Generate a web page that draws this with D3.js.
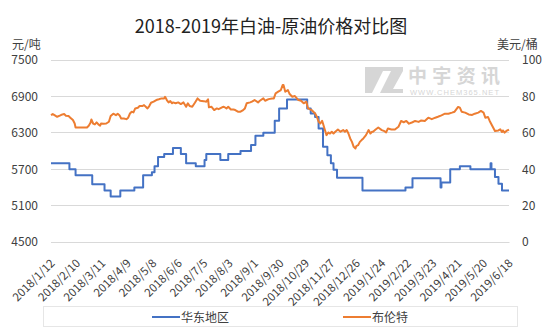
<!DOCTYPE html>
<html><head><meta charset="utf-8">
<script src="https://cdn.jsdelivr.net/npm/d3@7"></script>
<style>
html,body{margin:0;padding:0;background:#fff;}
svg{display:block;font-family:"Noto Sans CJK SC","Noto Sans",sans-serif;}
</style></head>
<body><svg id="c" width="554" height="332"></svg>
<script>
const title = "2018-2019年白油-原油价格对比图";
const leftUnit = "元/吨", rightUnit = "美元/桶";
const leftTicks = [4500, 5100, 5700, 6300, 6900, 7500];
const rightTicks = [0, 20, 40, 60, 80, 100];
const xLabels = ["2018/1/12","2018/2/10","2018/3/11","2018/4/9","2018/5/8","2018/6/6","2018/7/5","2018/8/3","2018/9/1","2018/9/30","2018/10/29","2018/11/27","2018/12/26","2019/1/24","2019/2/22","2019/3/23","2019/4/21","2019/5/20","2019/6/18"];
const seriesNames = ["华东地区", "布伦特"];

// 华东地区 (元/吨) — price change dates and levels
const eastDates = ["2018/1/12","2018/2/2","2018/2/9","2018/2/28","2018/3/14","2018/3/21","2018/4/1","2018/4/17","2018/4/27","2018/5/7","2018/5/10","2018/5/14","2018/5/21","2018/5/31","2018/6/9","2018/6/15","2018/6/26","2018/7/6","2018/7/8","2018/7/24","2018/8/2","2018/8/16","2018/8/28","2018/9/2","2018/9/11","2018/9/24","2018/9/29","2018/10/8","2018/10/31","2018/11/4","2018/11/9","2018/11/13","2018/11/18","2018/11/23","2018/11/27","2018/11/30","2018/12/4","2019/1/2","2019/2/20","2019/2/28","2019/4/1","2019/4/2","2019/4/12","2019/4/23","2019/5/5","2019/5/28","2019/5/29","2019/6/2","2019/6/6","2019/6/10","2019/6/18"];
const eastValues = [5800,5700,5600,5450,5350,5250,5350,5400,5600,5650,5750,5900,5950,6050,5950,5800,5750,5850,5950,5850,5950,6000,6100,6250,6300,6500,6700,6850,6700,6620,6560,6370,6070,5930,5800,5690,5560,5350,5400,5550,5400,5480,5700,5750,5700,5800,5700,5570,5460,5350,5350];

// 布伦特 (美元/桶)
const brentDates = ["2018/1/12","2018/1/14","2018/1/16","2018/1/19","2018/1/22","2018/1/25","2018/1/27","2018/1/29","2018/2/1","2018/2/3","2018/2/6","2018/2/8","2018/2/9","2018/2/16","2018/2/22","2018/2/24","2018/2/26","2018/2/27","2018/3/1","2018/3/3","2018/3/5","2018/3/7","2018/3/9","2018/3/10","2018/3/13","2018/3/16","2018/3/19","2018/3/21","2018/3/24","2018/3/27","2018/3/29","2018/3/31","2018/4/2","2018/4/5","2018/4/8","2018/4/10","2018/4/12","2018/4/14","2018/4/16","2018/4/18","2018/4/21","2018/4/23","2018/4/26","2018/4/28","2018/4/30","2018/5/2","2018/5/4","2018/5/6","2018/5/9","2018/5/12","2018/5/15","2018/5/18","2018/5/21","2018/5/22","2018/5/24","2018/5/26","2018/5/28","2018/5/30","2018/5/31","2018/6/3","2018/6/6","2018/6/9","2018/6/12","2018/6/15","2018/6/17","2018/6/19","2018/6/22","2018/6/25","2018/6/28","2018/7/1","2018/7/5","2018/7/8","2018/7/10","2018/7/11","2018/7/14","2018/7/17","2018/7/20","2018/7/22","2018/7/26","2018/7/28","2018/7/31","2018/8/2","2018/8/5","2018/8/8","2018/8/10","2018/8/13","2018/8/16","2018/8/19","2018/8/21","2018/8/23","2018/8/27","2018/8/29","2018/9/1","2018/9/5","2018/9/7","2018/9/11","2018/9/13","2018/9/17","2018/9/21","2018/9/23","2018/9/25","2018/9/28","2018/10/1","2018/10/3","2018/10/4","2018/10/6","2018/10/9","2018/10/11","2018/10/14","2018/10/17","2018/10/21","2018/10/24","2018/10/27","2018/10/30","2018/11/1","2018/11/5","2018/11/9","2018/11/11","2018/11/13","2018/11/15","2018/11/17","2018/11/18","2018/11/20","2018/11/22","2018/11/24","2018/11/26","2018/11/28","2018/11/30","2018/12/2","2018/12/5","2018/12/8","2018/12/11","2018/12/13","2018/12/15","2018/12/17","2018/12/19","2018/12/21","2018/12/23","2018/12/25","2018/12/26","2018/12/28","2018/12/30","2019/1/1","2019/1/3","2019/1/6","2019/1/9","2019/1/11","2019/1/13","2019/1/14","2019/1/17","2019/1/20","2019/1/24","2019/1/27","2019/1/29","2019/1/31","2019/2/4","2019/2/8","2019/2/12","2019/2/15","2019/2/18","2019/2/21","2019/2/24","2019/2/28","2019/3/3","2019/3/7","2019/3/10","2019/3/14","2019/3/18","2019/3/22","2019/3/26","2019/3/29","2019/4/2","2019/4/6","2019/4/10","2019/4/14","2019/4/17","2019/4/21","2019/4/23","2019/4/25","2019/4/29","2019/5/3","2019/5/7","2019/5/10","2019/5/14","2019/5/17","2019/5/20","2019/5/22","2019/5/25","2019/5/27","2019/5/30","2019/6/2","2019/6/6","2019/6/8","2019/6/10","2019/6/11","2019/6/13","2019/6/15","2019/6/18"];
const brentValues = [69.7,70.3,69.7,68.8,69.4,70.1,70.3,69.4,69.2,68.3,67.0,65.1,62.9,62.9,62.9,63.9,65.5,67.3,65.1,64.6,65.7,64.6,63.9,65.1,65.0,65.1,66.1,69.2,70.5,69.7,70.5,69.7,67.9,67.9,67.5,68.3,70.6,71.6,71.2,73.4,73.8,74.7,74.7,75.2,74.3,73.4,74.7,76.5,77.1,78.0,78.4,78.9,78.9,79.8,78.0,76.7,77.4,76.2,76.7,76.2,76.7,75.8,76.7,74.3,76.2,74.7,74.3,76.5,78.9,77.6,77.4,77.1,78.4,74.0,74.3,72.5,73.4,73.0,74.0,74.3,73.4,74.3,72.8,72.8,72.5,71.6,71.6,72.5,73.4,76.2,76.7,77.1,78.0,76.7,77.6,78.9,77.6,78.5,78.9,78.9,81.7,82.6,83.5,86.2,86.2,82.6,83.5,81.3,79.8,80.2,78.0,77.6,76.2,77.1,73.4,72.5,70.6,68.8,66.1,65.1,66.6,65.1,61.8,58.7,60.2,59.6,60.6,59.6,60.6,61.8,60.6,61.5,60.6,61.5,59.6,56.9,55.0,52.3,51.4,52.7,53.2,55.0,56.0,56.9,58.7,61.5,59.6,60.6,60.6,61.8,62.9,61.5,60.9,60.2,62.4,61.8,61.8,63.3,66.5,65.8,66.5,65.0,65.8,66.5,66.0,66.8,66.5,68.3,67.5,68.3,68.8,69.6,70.5,70.5,71.1,71.6,74.2,73.8,71.6,71.1,70.1,69.8,70.5,71.1,72.0,71.1,68.3,68.7,66.5,63.7,61.0,61.3,61.9,60.4,61.3,60.1,61.0,61.8];

const parseD = s => { const [y,m,d] = s.split("/").map(Number); return new Date(y, m-1, d); };

const svg = d3.select("#c");
const L = 51, R = 509, T = 60, B = 242;
const x = d3.scaleTime().domain([parseD(xLabels[0]), parseD(xLabels[xLabels.length-1])]).range([L, R]);
const yL = d3.scaleLinear().domain([4500, 7500]).range([B, T]);
const yR = d3.scaleLinear().domain([0, 100]).range([B, T]);
const textCol = "#404040";

// gridlines
svg.append("g").selectAll("line").data(leftTicks).join("line")
  .attr("x1", L).attr("x2", R).attr("y1", d => yL(d)).attr("y2", d => yL(d))
  .attr("stroke", "#d9d9d9").attr("stroke-width", 1).attr("shape-rendering","crispEdges");

// watermark
const wm = svg.append("g").attr("fill", "#d6d6d6");
wm.append("path").attr("d", "M365,67 L385,67 L372,93 L365,93 Z M380,93 L393,67 L403,67 L403,71 L393,89 L403,89 L403,93 Z M384,67 L400,67 L398,71 L382,71 Z");
wm.append("text").attr("x", 408).attr("y", 83).attr("font-size", 19).attr("font-weight", "bold")
  .attr("textLength", 92).text("中宇资讯");
wm.append("text").attr("x", 410).attr("y", 95).attr("font-size", 7.5).attr("font-family","Arial, 'Liberation Sans', sans-serif")
  .attr("textLength", 89).text("WWW.CHEM365.NET");

// left axis
const axL = d3.axisLeft(yL).tickValues(leftTicks).tickSize(0).tickPadding(0).tickFormat(d3.format("d"));
const gL = svg.append("g").attr("transform", `translate(38,0)`).call(axL);
gL.select(".domain").remove();
gL.selectAll("text").attr("font-size", 12).attr("fill", textCol).attr("font-family","'Noto Sans CJK SC',sans-serif");

// right axis
const axR = d3.axisRight(yR).tickValues(rightTicks).tickSize(0).tickPadding(0).tickFormat(d3.format("d"));
const gR = svg.append("g").attr("transform", `translate(522,0)`).call(axR);
gR.select(".domain").remove();
gR.selectAll("text").attr("font-size", 12).attr("fill", textCol).attr("font-family","'Noto Sans CJK SC',sans-serif");

// bottom axis
const axB = d3.axisBottom(x).tickValues(xLabels.map(parseD)).tickSize(0)
  .tickFormat((d, i) => xLabels[i]);
const gB = svg.append("g").attr("transform", `translate(0,${B})`).call(axB);
gB.select(".domain").attr("stroke", "#d9d9d9");
gB.selectAll("text").attr("font-size", 11.5).attr("fill", textCol).attr("font-family","'Noto Sans CJK SC',sans-serif")
  .attr("text-anchor", "end").attr("dy", 0).attr("y", 0)
  .attr("transform", "translate(4,22) rotate(-45)");

// lines
const pairs = (ds, vs) => ds.map((d, i) => [parseD(d), vs[i]]);
svg.append("path").datum(pairs(eastDates, eastValues))
  .attr("fill", "none").attr("stroke", "#4472c4").attr("stroke-width", 2).attr("stroke-linejoin","round")
  .attr("d", d3.line().x(d => x(d[0])).y(d => yL(d[1])).curve(d3.curveStepAfter));
svg.append("path").datum(pairs(brentDates, brentValues))
  .attr("fill", "none").attr("stroke", "#ed7d31").attr("stroke-width", 2).attr("stroke-linejoin","round")
  .attr("d", d3.line().x(d => x(d[0])).y(d => yR(d[1])));

// title & units
svg.append("text").attr("x", 271).attr("y", 33).attr("text-anchor", "middle")
  .attr("font-size", 18).attr("fill", "#222").text(title);
svg.append("text").attr("x", 12).attr("y", 49).attr("font-size", 12).attr("fill", textCol).text(leftUnit);
svg.append("text").attr("x", 497).attr("y", 49).attr("font-size", 12).attr("fill", textCol).text(rightUnit);

// legend
svg.append("rect").attr("x", 43.5).attr("y", 306.5).attr("width", 474).attr("height", 20)
  .attr("fill", "none").attr("stroke", "#e6e6e6");
const legCols = ["#4472c4", "#ed7d31"];
const legX = [152, 343];
seriesNames.forEach((n, i) => {
  svg.append("line").attr("x1", legX[i]).attr("x2", legX[i] + 28).attr("y1", 317).attr("y2", 317)
    .attr("stroke", legCols[i]).attr("stroke-width", 2);
  svg.append("text").attr("x", legX[i] + 29).attr("y", 321.5).attr("font-size", 12).attr("fill", textCol).text(n);
});
</script></body></html>
